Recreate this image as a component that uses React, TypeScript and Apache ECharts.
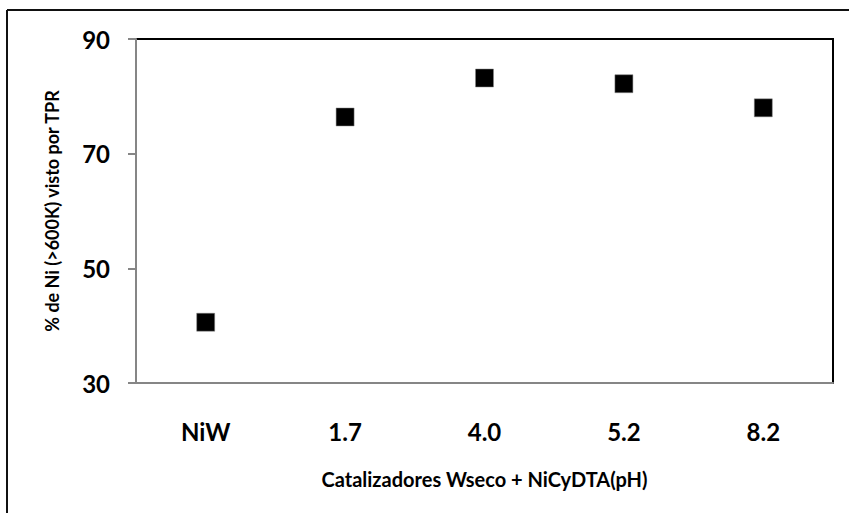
import React, { useEffect, useRef } from "react";
import * as echarts from "echarts";

const categories = ["NiW", "1.7", "4.0", "5.2", "8.2"];
const values = [40.6, 76.4, 83.2, 82.2, 78.0];
const yMin = 30;
const yMax = 90;
const yInterval = 20;
const xTitle = "Catalizadores Wseco + NiCyDTA(pH)";
const yTitle = "% de Ni (>600K) visto por TPR";

export default function App() {
  const ref = useRef<HTMLDivElement>(null);
  useEffect(() => {
    if (!ref.current) return;
    const chart = echarts.init(ref.current, null, { renderer: "svg" });
    const font = "Lato, 'Open Sans', sans-serif";
    chart.setOption({
      animation: false,
      backgroundColor: "#fff",
      grid: {
        left: 136,
        top: 39,
        right: 16,
        bottom: 130,
        show: true,
        borderColor: "#000",
        borderWidth: 2,
        backgroundColor: "transparent",
      },
      xAxis: {
        type: "category",
        data: categories,
        boundaryGap: true,
        axisLine: { lineStyle: { color: "#868686", width: 2 } },
        axisTick: { show: false },
        axisLabel: {
          color: "#000",
          fontFamily: font,
          fontWeight: "bold",
          fontSize: 24,
          margin: 36,
        },
        name: xTitle,
        nameLocation: "middle",
        nameGap: 86,
        nameTextStyle: {
          color: "#000",
          fontFamily: font,
          fontWeight: "bold",
          fontSize: 20,
        },
        splitLine: { show: false },
      },
      yAxis: {
        type: "value",
        min: yMin,
        max: yMax,
        interval: yInterval,
        axisLine: { show: true, lineStyle: { color: "#868686", width: 2 } },
        axisTick: { show: true, length: 8, lineStyle: { color: "#868686", width: 2 } },
        axisLabel: {
          color: "#000",
          fontFamily: font,
          fontWeight: "bold",
          fontSize: 24,
          margin: 26,
        },
        splitLine: { show: false },
        name: yTitle,
        nameLocation: "middle",
        nameGap: 75,
        nameRotate: 90,
        nameTextStyle: {
          color: "#000",
          fontFamily: font,
          fontWeight: "bold",
          fontSize: 18,
        },
      },
      series: [
        {
          type: "scatter",
          data: values,
          symbol: "rect",
          symbolSize: 18,
          itemStyle: { color: "#000", opacity: 1, borderColor: "#888", borderWidth: 0.5 },
        },
      ],
      graphic: [
        {
          type: "line",
          shape: { x1: 7, y1: 10, x2: 860, y2: 10 },
          style: { stroke: "#111", lineWidth: 2 },
        },
        {
          type: "line",
          shape: { x1: 7, y1: 10, x2: 7, y2: 520 },
          style: { stroke: "#111", lineWidth: 2 },
        },
      ],
    });
    return () => chart.dispose();
  }, []);
  return (
    <div
      ref={ref}
      style={{ position: "fixed", left: 0, top: 0, width: 849, height: 513 }}
    />
  );
}
